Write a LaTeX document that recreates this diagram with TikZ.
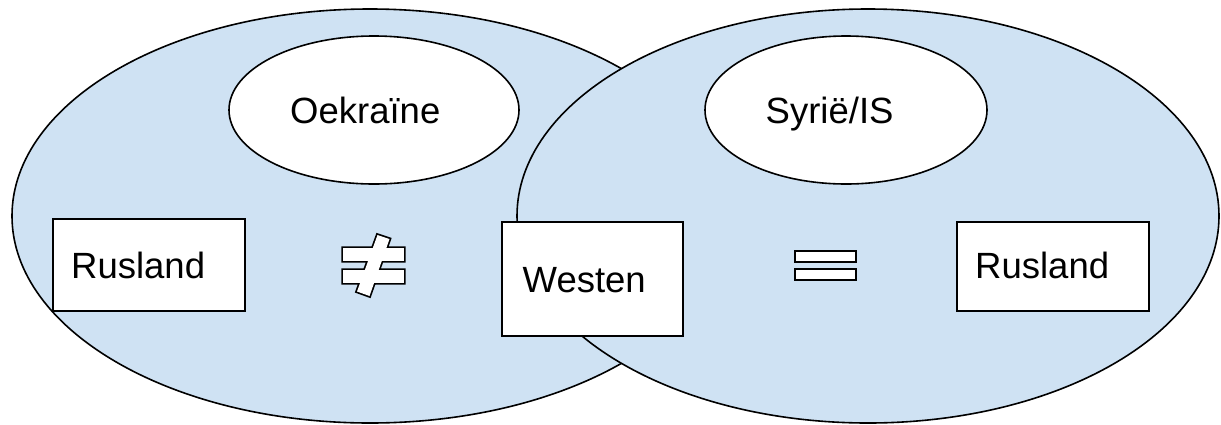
\documentclass[tikz,border=0pt]{standalone}
\usepackage{fontspec}
\setmainfont{Liberation Sans}
\usetikzlibrary{shapes.geometric}
\definecolor{areablue}{HTML}{CFE2F3}
\tikzset{
  area/.style={ellipse, draw=black, fill=areablue, line width=1.6pt, inner sep=0pt},
  topic/.style={ellipse, draw=black, fill=white, line width=1.6pt, inner sep=0pt},
  party/.style={rectangle, draw=black, fill=white, line width=1.6pt, inner sep=0pt},
  lbl/.style={anchor=base west, inner sep=0pt, font=\fontsize{36.5}{44}\selectfont},
  signrim/.style={draw=black, line width=3.4pt, line join=miter},
  signbody/.style={fill=white},
}
\newcommand{\neqbarA}{(343,248) rectangle (404,261)}
\newcommand{\neqbarB}{(343,270) rectangle (404,283)}
\newcommand{\neqslash}{(377.5,235) -- (389.5,239) -- (369.5,296) -- (357,291.5) -- cycle}
\begin{document}
\begin{tikzpicture}[x=1pt, y=-1pt]
\useasboundingbox (0,0) rectangle (1221,424);
% the two overlapping areas
\node[area, minimum width=716pt, minimum height=414pt] (left) at (370,216) {};
\node[area, minimum width=702pt, minimum height=414pt] (right) at (868,216) {};
% conflicts
\node[topic, minimum width=290pt, minimum height=148pt] (ukr) at (374,110) {};
\node[lbl] (ukrt) at (290,123) {Oekraïne};
\node[topic, minimum width=282pt, minimum height=148pt] (syr) at (846,110) {};
\node[lbl] (syrt) at (765.5,123) {Syrië/IS};
% parties
\node[party, minimum width=192pt, minimum height=92pt] (rusL) at (149,265) {};
\node[lbl] (rusLt) at (71,278.3) {Rusland};
\node[party, minimum width=181pt, minimum height=114pt] (west) at (592.5,279) {};
\node[lbl] (westt) at (522.5,292.7) {Westen};
\node[party, minimum width=192pt, minimum height=89pt] (rusR) at (1053,266.5) {};
\node[lbl] (rusRt) at (975,278.3) {Rusland};
% not-equal sign: outline first, then the white body of each piece over it
\path[signrim] \neqbarA \neqbarB \neqslash;
\path[signbody] \neqbarA;
\path[signbody] \neqbarB;
\path[signbody] \neqslash;
% equal sign
\draw[line width=1.8pt, fill=white] (795,251) rectangle (856,262)
                                    (795,269) rectangle (856,280);
\end{tikzpicture}
\end{document}
